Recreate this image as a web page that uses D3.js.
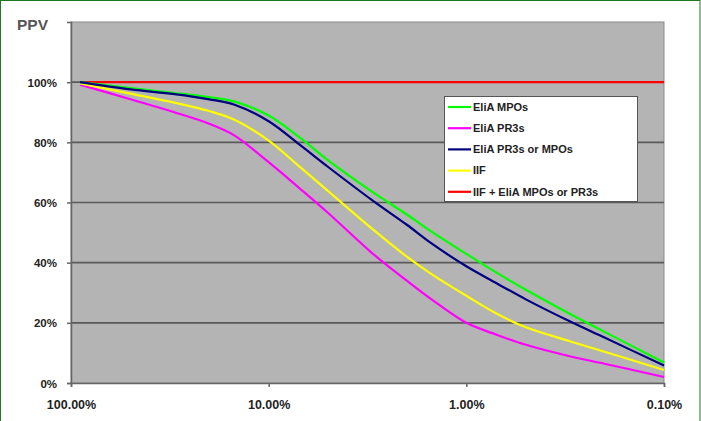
<!DOCTYPE html>
<html><head><meta charset="utf-8">
<script src="https://cdn.jsdelivr.net/npm/d3@7"></script>
<style>html,body{margin:0;padding:0;background:#fff;}svg{display:block;}</style>
</head><body>
<svg id="c" width="701" height="421"></svg>
<script>
const xPercents = [90, 50, 30, 20, 15, 10, 7, 5, 3, 2, 1.5, 1, 0.7, 0.5, 0.3, 0.2, 0.1];
const eliaMPO   = [100, 98.0, 96.4, 95.0, 93.6, 88.9, 81.7, 74.0, 63.6, 56.0, 50.3, 42.9, 36.6, 31.0, 23.0, 17.0, 6.8];
const eliaPR3   = [99.2, 94.3, 90.0, 86.2, 82.4, 73.4, 64.8, 56.5, 43.2, 34.0, 27.8, 20.0, 16.0, 12.7, 8.9, 6.4, 2.0];
const eliaEither= [100, 97.6, 96.0, 94.3, 92.6, 87.0, 79.3, 71.8, 60.8, 52.6, 46.4, 38.8, 33.1, 27.8, 20.5, 15.1, 5.8];
const iif       = [99.6, 96.2, 93.2, 90.4, 87.6, 80.6, 72.0, 63.8, 51.3, 42.0, 36.2, 29.0, 23.0, 18.5, 13.9, 10.4, 4.3];
const iifPlus   = [100, 100, 100, 100, 100, 100, 100, 100, 100, 100, 100, 100, 100, 100, 100, 100, 100];
const seriesNames = ["EliA MPOs", "EliA PR3s", "EliA PR3s or MPOs", "IIF", "IIF + EliA MPOs or PR3s"];
const seriesColors = ["#00ff00", "#ff00ff", "#000080", "#ffff00", "#ff0000"];
const xTicks = [100, 10, 1, 0.1];
const xTickLabels = ["100.00%", "10.00%", "1.00%", "0.10%"];
const yTicks = [0, 20, 40, 60, 80, 100];
const yTickLabels = ["0%", "20%", "40%", "60%", "80%", "100%"];

const svg = d3.select("#c");
svg.append("rect").attr("x",0.5).attr("y",0.5).attr("width",699.5).attr("height",430)
  .attr("fill","#fff").attr("stroke","#1f7a1f").attr("stroke-width",1);

const L = 71, R = 664, T = 22, B = 383;
const x = d3.scaleLog().domain([100, 0.1]).range([L, R]);
const y = d3.scaleLinear().domain([0, 120]).range([B, T]);

svg.append("rect").attr("x",L).attr("y",T).attr("width",R-L).attr("height",B-T)
  .attr("fill","#b4b4b4").attr("stroke","#8a8a8a").attr("stroke-width",1);

svg.append("g").selectAll("line").data(yTicks.filter(d=>d>0)).join("line")
  .attr("x1",L).attr("x2",R).attr("y1",d=>y(d)).attr("y2",d=>y(d))
  .attr("stroke","#5a5a5a").attr("stroke-width",1.6);

const yAxis = d3.axisLeft(y).tickValues(yTicks).tickSize(4).tickFormat((d,i)=>yTickLabels[i]);
const gy = svg.append("g").attr("transform",`translate(${L},0)`).call(yAxis);
gy.select(".domain").attr("stroke","#666").attr("stroke-width",1.5);
gy.selectAll(".tick line").attr("stroke","#666").attr("stroke-width",1.5);
gy.selectAll("text").attr("font-family","Liberation Sans, Arial, sans-serif")
  .attr("font-weight","bold").attr("font-size",11.5).attr("fill","#222").attr("x",-14).attr("dy","0.35em");

const xAxis = d3.axisBottom(x).tickValues(xTicks).tickSize(4).tickFormat((d,i)=>xTickLabels[i]);
const gx = svg.append("g").attr("transform",`translate(0,${B})`).call(xAxis);
gx.select(".domain").attr("stroke","#666").attr("stroke-width",1.5);
gx.selectAll(".tick line").attr("stroke","#666").attr("stroke-width",1.5);
gx.selectAll("text").attr("font-family","Liberation Sans, Arial, sans-serif")
  .attr("font-weight","bold").attr("font-size",12.5).attr("fill","#222").attr("y",17).attr("dy","0.71em");

svg.append("text").attr("x",17).attr("y",30).text("PPV")
  .attr("font-family","Liberation Sans, Arial, sans-serif").attr("font-weight","bold")
  .attr("font-size",15.5).attr("fill","#555");

const allSeries = [eliaMPO, eliaPR3, eliaEither, iif, iifPlus];
const line = d3.line().x(d=>x(d[0])).y(d=>y(d[1])).curve(d3.curveCatmullRom.alpha(0.5));
const drawOrder = [4, 1, 3, 0, 2];
drawOrder.forEach(i=>{
  svg.append("path").datum(xPercents.map((p,j)=>[p, allSeries[i][j]]))
    .attr("d", line).attr("fill","none").attr("stroke",seriesColors[i]).attr("stroke-width",2.2);
});

const lg = svg.append("g");
lg.append("rect").attr("x",444.5).attr("y",96.5).attr("width",193).attr("height",105)
  .attr("fill","#fff").attr("stroke","#555").attr("stroke-width",1);
seriesNames.forEach((n,i)=>{
  const yy = 107 + i*21.2;
  lg.append("line").attr("x1",448).attr("x2",471).attr("y1",yy).attr("y2",yy)
    .attr("stroke",seriesColors[i]).attr("stroke-width",2.2);
  lg.append("text").attr("x",473).attr("y",yy).attr("dy","0.35em").text(n)
    .attr("font-family","Liberation Sans, Arial, sans-serif").attr("font-weight","bold")
    .attr("font-size",11).attr("fill","#222");
});
</script>
</body></html>
